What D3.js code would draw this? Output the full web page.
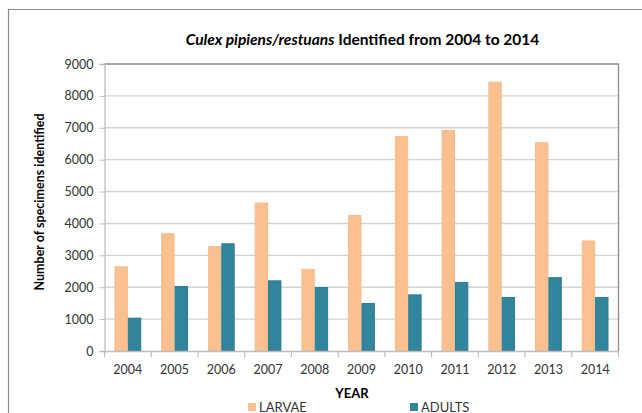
<!DOCTYPE html>
<html>
<head>
<meta charset="utf-8">
<script src="https://cdn.jsdelivr.net/npm/d3@7"></script>
<style>
  html, body { margin: 0; padding: 0; background: #fff; }
  svg { display: block; font-family: Lato, "Open Sans", sans-serif; }
</style>
</head>
<body>
<svg id="chart" width="642" height="413"></svg>
<script>
// Yearly counts of Culex pipiens/restuans specimens
const years = ["2004", "2005", "2006", "2007", "2008", "2009", "2010", "2011", "2012", "2013", "2014"];
const larvae = [2640, 3680, 3270, 4640, 2560, 4250, 6720, 6920, 8430, 6530, 3450];
const adults = [1030, 2020, 3360, 2200, 1990, 1490, 1760, 2150, 1680, 2300, 1680];
const seriesNames = ["LARVAE", "ADULTS"];
const seriesColors = ["#FAC090", "#31859C"];
const seriesStroke = ["#F5BC8C", "#2C7A8F"];
const yTicks = [0, 1000, 2000, 3000, 4000, 5000, 6000, 7000, 8000, 9000];

const svg = d3.select("#chart");
const plot = { left: 104.5, right: 618.5, top: 64, bottom: 351 };

// outer frame of the chart area (open on the right and bottom)
svg.append("path")
  .attr("d", `M8.5,413 V9.5 H642`)
  .attr("fill", "none").attr("stroke", "#8a8a8a").attr("stroke-width", 1.2);

const x0 = d3.scaleBand().domain(years).range([plot.left, plot.right]).padding(0);
const bw = x0.bandwidth();
const x1 = d3.scaleBand().domain(seriesNames).range([bw * 0.214, bw * 0.786]).padding(0);
const y = d3.scaleLinear().domain([0, 9000]).range([plot.bottom, plot.top]);

// horizontal gridlines
svg.append("g").selectAll("line").data(yTicks.filter(t => t > 0 && t < 9000)).join("line")
  .attr("x1", plot.left).attr("x2", plot.right)
  .attr("y1", d => y(d)).attr("y2", d => y(d))
  .attr("stroke", "#d4d4d4").attr("stroke-width", 1.4);

// plot frame: top and right edges
svg.append("path")
  .attr("d", `M${plot.left},${plot.top} H${plot.right} V${plot.bottom}`)
  .attr("fill", "none").attr("stroke", "#8c8c8c").attr("stroke-width", 1.3);

// bars
const rows = years.map((yr, i) => ({ year: yr, values: [larvae[i], adults[i]] }));
const groups = svg.append("g").selectAll("g").data(rows).join("g")
  .attr("transform", d => `translate(${x0(d.year)},0)`);
groups.selectAll("rect")
  .data(d => d.values.map((v, k) => ({ key: seriesNames[k], k, v })))
  .join("rect")
  .attr("x", d => x1(d.key) + 0.5)
  .attr("width", x1.bandwidth() - 1)
  .attr("y", d => y(d.v))
  .attr("height", d => y(0) - y(d.v))
  .attr("fill", d => seriesColors[d.k])
  .attr("stroke", d => seriesStroke[d.k])
  .attr("stroke-width", 1);

// y axis
const yAxis = d3.axisLeft(y).tickValues(yTicks).tickSize(5).tickPadding(6).tickFormat(d3.format("d"));
const gy = svg.append("g").attr("transform", `translate(${plot.left},0)`).call(yAxis);
gy.select(".domain").attr("stroke", "#bdbdbd").attr("stroke-width", 1.3);
gy.selectAll(".tick line").attr("stroke", "#bdbdbd");
gy.selectAll("text").attr("fill", "#333").attr("font-size", 12.5).attr("font-family", "Lato, sans-serif");

// x axis: tick marks at category boundaries
const xAxis = d3.axisBottom(x0).tickSize(0).tickPadding(14);
const gx = svg.append("g").attr("transform", `translate(0,${plot.bottom})`).call(xAxis);
gx.select(".domain").attr("stroke", "#bdbdbd").attr("stroke-width", 1.3);
gx.selectAll("text").attr("fill", "#333").attr("font-size", 12.5).attr("font-family", "Lato, sans-serif");
const boundaries = years.map(yr => x0(yr)).concat([plot.right]);
gx.append("g").selectAll("line").data(boundaries).join("line")
  .attr("x1", d => d).attr("x2", d => d).attr("y1", 0).attr("y2", 6)
  .attr("stroke", "#bdbdbd").attr("stroke-width", 1.2);

// title
const title = svg.append("text")
  .attr("x", (plot.left + plot.right) / 2 + 1).attr("y", 45)
  .attr("text-anchor", "middle").attr("font-size", 15.5).attr("font-weight", "bold").attr("fill", "#000");
title.append("tspan").attr("font-style", "italic").text("Culex pipiens/restuans");
title.append("tspan").text(" Identified from 2004 to 2014");

// axis titles
svg.append("text")
  .attr("transform", `translate(44,202) rotate(-90)`)
  .attr("text-anchor", "middle").attr("font-size", 12.5).attr("font-weight", "bold").attr("fill", "#000")
  .text("Number of specimens identified");
svg.append("text")
  .attr("x", 352).attr("y", 398)
  .attr("text-anchor", "middle").attr("font-size", 13).attr("font-weight", "bold").attr("fill", "#000")
  .text("YEAR");

// legend
const legendX = [248, 410];
const legend = svg.append("g").selectAll("g").data(seriesNames).join("g")
  .attr("transform", (d, i) => `translate(${legendX[i]},403)`);
legend.append("rect").attr("width", 8).attr("height", 8)
  .attr("fill", (d, i) => seriesColors[i]);
legend.append("text").attr("x", 11).attr("y", 8.5)
  .attr("font-size", 13).attr("fill", "#333").text(d => d);
</script>
</body>
</html>
